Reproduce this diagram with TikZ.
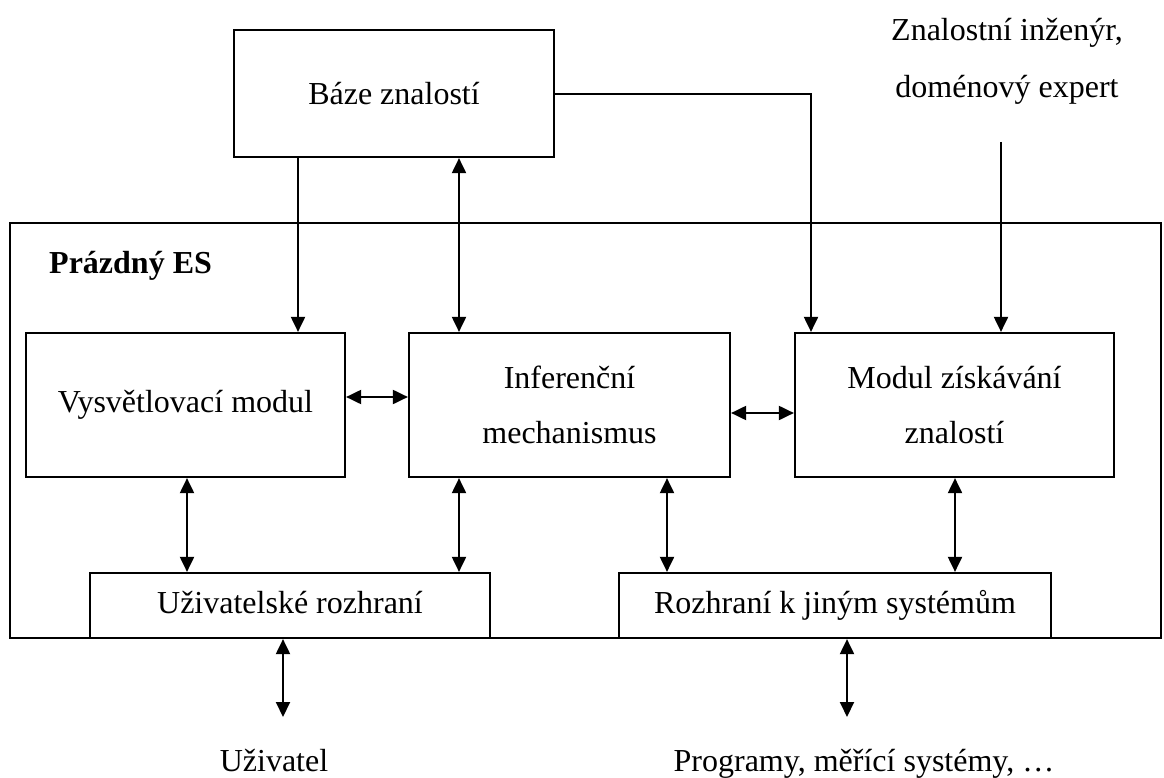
\documentclass[tikz,border=0pt]{standalone}
\usepackage{fontspec}
\setmainfont{Liberation Serif}
\usetikzlibrary{arrows.meta}
\begin{document}
\begin{tikzpicture}[x=1pt,y=-1pt,
  box/.style={draw,line width=2.2pt,inner sep=0pt,align=center,
    font=\fontsize{32}{55}\selectfont},
  flat/.style={text height=22pt,text depth=7pt},
  txt/.style={inner sep=0pt,align=center,font=\fontsize{32}{57}\selectfont},
  one/.style={line width=2pt,-{Triangle[length=15pt,width=14pt]}},
  both/.style={line width=2pt,{Triangle[length=15pt,width=14pt]}-{Triangle[length=15pt,width=14pt]}},
  wire/.style={line width=2pt}]
\useasboundingbox (0,0) rectangle (1164,778);

% outer frame of the empty expert system
\node[box,minimum width=1151pt,minimum height=415pt] (es) at (585.5,430.5) {};
\node[anchor=west,inner sep=0pt,font=\fontsize{32}{38}\selectfont\bfseries] (eslabel) at (49,266) {Prázdný ES};

% blocks
\node[box,minimum width=320pt,minimum height=127pt] (baze) at (394,93.5) {Báze znalostí};
\node[box,minimum width=319pt,minimum height=144pt] (vysv) at (185.5,405) {Vysvětlovací modul};
\node[box,minimum width=321pt,minimum height=144pt] (inf) at (569.5,405) {Inferenční\\mechanismus};
\node[box,minimum width=319pt,minimum height=144pt] (modul) at (954.5,405) {Modul získávání\\znalostí};
\node[box,flat,minimum width=400pt,minimum height=65pt] (uziv) at (290,605.5) {Uživatelské rozhraní};
\node[box,flat,minimum width=432pt,minimum height=65pt] (rozhr) at (835,605.5) {Rozhraní k jiným systémům};

% outside actors
\node[txt] (expert) at (1007,61) {Znalostní inženýr,\\doménový expert};
\node[txt,anchor=base] (user) at (274,771) {Uživatel};
\node[txt,anchor=base] (prog) at (864,771) {Programy, měřící systémy, …};

% vertical guide positions
\coordinate (xa) at (298,0);
\coordinate (xb) at (459,0);
\coordinate (xc) at (811,0);
\coordinate (xd) at (1001,142);
\coordinate (xe) at (187,0);
\coordinate (xf) at (667,0);
\coordinate (xg) at (955,0);
\coordinate (ua) at (283,717);
\coordinate (pa) at (847,717);
\coordinate (ya) at (0,397);
\coordinate (yb) at (0,413);
\coordinate (yc) at (0,94);

% knowledge base links
\draw[one] (baze.south -| xa) -- (vysv.north -| xa);
\draw[both] (baze.south -| xb) -- (inf.north -| xb);
\draw[one] (baze.east |- yc) -| (modul.north -| xc);
\draw[one] (xd) -- (modul.north -| xd);

% links between modules
\draw[both] (vysv.east |- ya) -- (inf.west |- ya);
\draw[both] (inf.east |- yb) -- (modul.west |- yb);

% links to the interfaces
\draw[both] (vysv.south -| xe) -- (uziv.north -| xe);
\draw[both] (inf.south -| xb) -- (uziv.north -| xb);
\draw[both] (inf.south -| xf) -- (rozhr.north -| xf);
\draw[both] (modul.south -| xg) -- (rozhr.north -| xg);

% links to the outside
\draw[both] (uziv.south -| ua) -- (ua);
\draw[both] (rozhr.south -| pa) -- (pa);
\end{tikzpicture}
\end{document}
